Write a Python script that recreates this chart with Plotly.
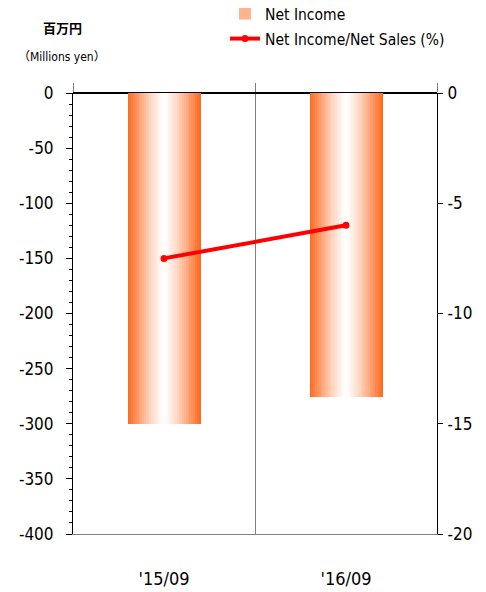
import plotly.graph_objects as go

categories = ["'15/09", "'16/09"]
net_income = [-300, -276]
ratio_pct = [-7.5, -6.0]
left_tickvals = [0, -50, -100, -150, -200, -250, -300, -350, -400]
left_ticktext = ["0", "-50", "-100", "-150", "-200", "-250", "-300", "-350", "-400"]
right_tickvals = [0, -5, -10, -15, -20]
right_ticktext = ["0", "-5", "-10", "-15", "-20"]

FONT = "DejaVu Sans Condensed, Noto Sans CJK JP, sans-serif"
ORANGE = (255, 102, 26)

# page body has an 8px margin; work in reference pixel coordinates and shift
OFF = 8
W, H = 486 - OFF, 592 - OFF
PL, PR, PT, PB = 73 - OFF, 437 - OFF, 93 - OFF, 534 - OFF
ML, MR, MT, MB = PL, W - PR, PT, H - PB
PW, PH = PR - PL, PB - PT


def px(x):
    return (x - OFF - PL) / PW


def py(y):
    return (PB - (y - OFF)) / PH


fig = go.Figure()

n = 40
bar_w = 0.4
sw = bar_w / n
for i in range(n):
    t = (i + 0.5) / n
    f = abs(2 * t - 1) ** 1.3
    c = tuple(int(round(255 * (1 - f) + o * f)) for o in ORANGE)
    fig.add_trace(go.Bar(
        x=categories, y=net_income,
        width=sw * 1.15, offset=-bar_w / 2 + i * sw,
        marker=dict(color="rgb(%d,%d,%d)" % c, line=dict(width=0)),
        name="Net Income", showlegend=(i == n // 5), hoverinfo="skip",
        legend="legend",
    ))

fig.add_trace(go.Scatter(
    x=categories, y=ratio_pct, name="Net Income/Net Sales (%)",
    xaxis="x2", yaxis="y2", mode="lines+markers",
    line=dict(color="#FF0000", width=4),
    marker=dict(color="#FF0000", size=7, symbol="circle"),
    legend="legend2",
))

leg_common = dict(
    xanchor="left", yanchor="middle",
    font=dict(size=15.5, family=FONT),
    itemwidth=30, bgcolor="rgba(0,0,0,0)",
)

fig.update_layout(
    width=W, height=H,
    margin=dict(l=ML, r=MR, t=MT, b=MB, autoexpand=False),
    paper_bgcolor="white", plot_bgcolor="white",
    barmode="overlay", bargap=0,
    font=dict(family=FONT, size=17, color="black"),
    showlegend=True,
    legend=dict(x=px(225), y=py(14), **leg_common),
    legend2=dict(x=px(225), y=py(39), **leg_common),
    xaxis=dict(
        type="category", range=[-0.5, 1.5], automargin=False,
        showline=True, linecolor="#808080", linewidth=1,
        showgrid=True, gridcolor="#808080", gridwidth=1,
        tickson="boundaries", ticks="", ticklen=0,
        ticklabelstandoff=28,
        tickfont=dict(size=18, family=FONT),
        zeroline=False,
    ),
    xaxis2=dict(
        type="category", range=[-0.5, 1.5], overlaying="x", side="top",
        showline=False, showgrid=False, automargin=False,
        tickson="boundaries", ticks="outside", ticklen=9, tickcolor="#808080",
        showticklabels=False,
    ),
    yaxis=dict(
        range=[-400, 0], tickvals=left_tickvals, ticktext=left_ticktext,
        showline=True, linecolor="black", linewidth=1, automargin=False,
        ticks="outside", ticklen=6, tickcolor="black",
        minor=dict(dtick=10, ticks="outside", ticklen=3, tickcolor="black"),
        showgrid=False, zeroline=True, zerolinecolor="black", zerolinewidth=2,
        ticklabelstandoff=9,
        tickfont=dict(size=17, family=FONT),
    ),
    yaxis2=dict(
        range=[-20, 0], overlaying="y", side="right", automargin=False,
        tickvals=right_tickvals, ticktext=right_ticktext,
        showline=True, linecolor="black", linewidth=1,
        ticks="outside", ticklen=5, tickcolor="black",
        showgrid=False, zeroline=False,
        ticklabelstandoff=1,
        tickfont=dict(size=17, family=FONT),
    ),
    annotations=[
        dict(text="百万円", x=px(62), y=py(27), xanchor="center", yanchor="middle",
             xref="paper", yref="paper", showarrow=False,
             font=dict(size=13, family="Noto Sans CJK JP", weight=700)),
        dict(text="（Millions yen）", x=px(62), y=py(57), xanchor="center", yanchor="middle",
             xref="paper", yref="paper", showarrow=False,
             font=dict(size=12, family=FONT)),
    ],
)

fig.write_html("out.html")
